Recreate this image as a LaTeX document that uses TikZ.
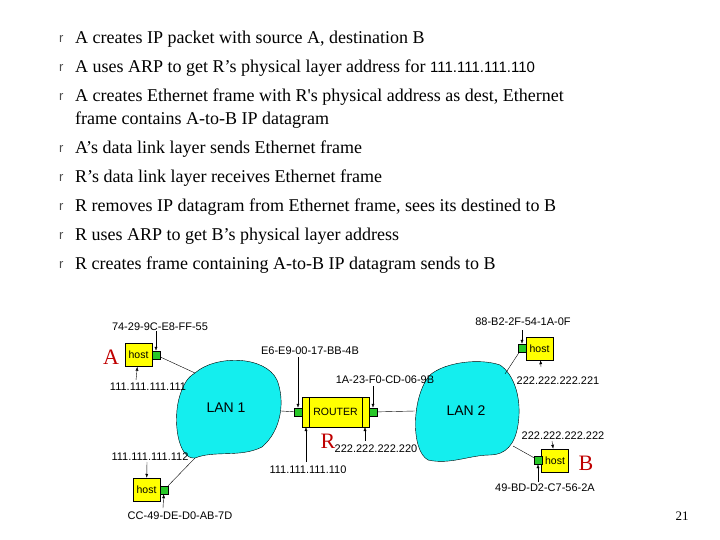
\documentclass[tikz,border=0pt]{standalone}
\usepackage{fontspec}
\setmainfont{Liberation Serif}
\newfontfamily\arial{Liberation Sans}
\newfontfamily\serifplain[Ligatures=ResetAll]{Liberation Serif}
\usetikzlibrary{arrows.meta}
\definecolor{lancyan}{RGB}{20,238,238}
\definecolor{portgreen}{RGB}{40,200,40}
\definecolor{hostyellow}{RGB}{255,255,0}
\begin{document}
\begin{tikzpicture}[x=1pt,y=-1pt,
  line/.style={anchor=west,inner sep=0,font=\fontsize{18}{18}\selectfont},
  bul/.style={anchor=west,inner sep=0,font=\arial\fontsize{13}{13}\selectfont,text=black!70},
  lbl/.style={inner sep=0,font=\arial\fontsize{11}{11}\selectfont},
  hostbox/.style={draw,fill=hostyellow,minimum width=27,minimum height=23,inner sep=0,font=\arial\fontsize{10.5}{10.5}\selectfont},
  port/.style={draw,fill=portgreen,minimum size=8,inner sep=0},
  arr/.style={-{Latex[length=4pt,width=3pt]}},
  lan/.style={draw,fill=lancyan},
  red/.style={inner sep=0,text=red!75!black,font=\fontsize{22}{22}\selectfont}]
\useasboundingbox (0,0) rectangle (720,540);
% bullets
\foreach \y/\n in {39/b1,68/b2,97/b3,149/b4,178/b5,207/b6,236/b7,265/b8}
  \node[bul] (\n) at (59,\y) {r};
\node[line] (t1) at (75,39) {A creates IP packet with source A, destination B};
\node[line] (t2) at (75,68) {A uses ARP to get R’s physical layer address for {\arial\fontsize{15}{15}\selectfont 111.111.111.110}};
\node[line] (t3) at (75,97) {A creates Ethernet frame with R{\serifplain '}s physical address as dest, Ethernet};
\node[line] (t3b) at (75,120) {frame contains A-to-B IP datagram};
\node[line] (t4) at (75,149) {A’s data link layer sends Ethernet frame};
\node[line] (t5) at (75,178) {R’s data link layer receives Ethernet frame};
\node[line] (t6) at (75,207) {R removes IP datagram from Ethernet frame, sees its destined to B};
\node[line] (t7) at (75,236) {R uses ARP to get B’s physical layer address};
\node[line] (t8) at (75,265) {R creates frame containing A-to-B IP datagram sends to B};
% LANs
\draw[lan] (195,373) .. controls (215,355) and (265,355) .. (277,380)
  .. controls (285,400) and (282,430) .. (262,447)
  .. controls (240,458) and (215,450) .. (195,458)
  .. controls (178,460) and (172,420) .. (180,395)
  .. controls (185,380) and (190,376) .. (195,373) -- cycle;
\node[lbl,font=\arial\fontsize{14}{14}\selectfont] (lan1) at (226,408) {LAN 1};
\draw[lan] (430,375) .. controls (445,362) and (480,358) .. (500,365)
  .. controls (515,375) and (522,400) .. (518,425)
  .. controls (515,445) and (505,455) .. (490,455)
  .. controls (470,455) and (450,465) .. (428,460)
  .. controls (410,450) and (412,395) .. (430,375) -- cycle;
\node[lbl,font=\arial\fontsize{14}{14}\selectfont] (lan2) at (466,411) {LAN 2};
\coordinate (l1a) at (195,373); \coordinate (l1b) at (195,458); \coordinate (l1r) at (281,411);
\coordinate (l2l) at (415,411); \coordinate (l2a) at (505,374); \coordinate (l2b) at (513,446);
% host A
\node[hostbox] (hA) at (138.5,355) {host};
\node[port] (pA) at (156,355) {};
\node[red] (A) at (111,357) {A};
\node[lbl] (macA) at (160,327) {74-29-9C-E8-FF-55};
\node[lbl] (ipA) at (148,387) {111.111.111.111};
\draw[arr] (156,331) -- (pA);
\draw[arr] (136,380) -- (hA);
\draw (pA) -- (l1a);
% host C
\node[hostbox] (hC) at (146.5,489.5) {host};
\node[port] (pC) at (164,490) {};
\node[lbl] (ipC) at (150,457) {111.111.111.112};
\node[lbl] (macC) at (180,516) {CC-49-DE-D0-AB-7D};
\draw[arr] (147,462) -- (hC);
\draw[arr] (163,508) -- (pC);
\draw (pC) -- (l1b);
% router
\node[draw,fill=hostyellow,minimum width=67,minimum height=30,inner sep=0,font=\arial\fontsize{10.5}{10.5}\selectfont] (R1) at (335.5,412) {ROUTER};
\draw (309,397) -- (309,427) (362,397) -- (362,427);
\node[port] (pR1) at (298,412) {};
\node[port] (pR2) at (373,412) {};
\node[red] (R) at (328,441) {R};
\node[lbl] (macR1) at (310,351) {E6-E9-00-17-BB-4B};
\node[lbl] (macR2) at (385,380) {1A-23-F0-CD-06-9B};
\node[lbl] (ipR2) at (376,449) {222.222.222.220};
\node[lbl] (ipR1) at (308,470) {111.111.111.110};
\draw[arr] (298,357) -- (pR1);
\draw[arr] (373,386) -- (pR2);
\draw[arr] (365,441) -- (365,427);
\draw[arr] (306,462) -- (306,427);
\draw (l1r) -- (pR1);
\draw (pR2) -- (l2l);
% host D
\node[hostbox] (hD) at (539.5,348.5) {host};
\node[port] (pD) at (522,348) {};
\node[lbl] (macD) at (523,322) {88-B2-2F-54-1A-0F};
\node[lbl] (ipD) at (558,381) {222.222.222.221};
\draw[arr] (522,330) -- (pD);
\draw[arr] (541,367) -- (hD);
\draw (pD) -- (l2a);
% host B
\node[hostbox] (hB) at (555,460.5) {host};
\node[port] (pB) at (538,460) {};
\node[red] (B) at (586,463) {B};
\node[lbl] (ipB) at (563,436) {222.222.222.222};
\node[lbl] (macB) at (545,488) {49-BD-D2-C7-56-2A};
\draw[arr] (552,441) -- (hB);
\draw[arr] (538,482) -- (pB);
\draw (pB) -- (l2b);
\node[inner sep=0,font=\fontsize{13}{13}\selectfont] (pg) at (682,516) {21};
\end{tikzpicture}
\end{document}
